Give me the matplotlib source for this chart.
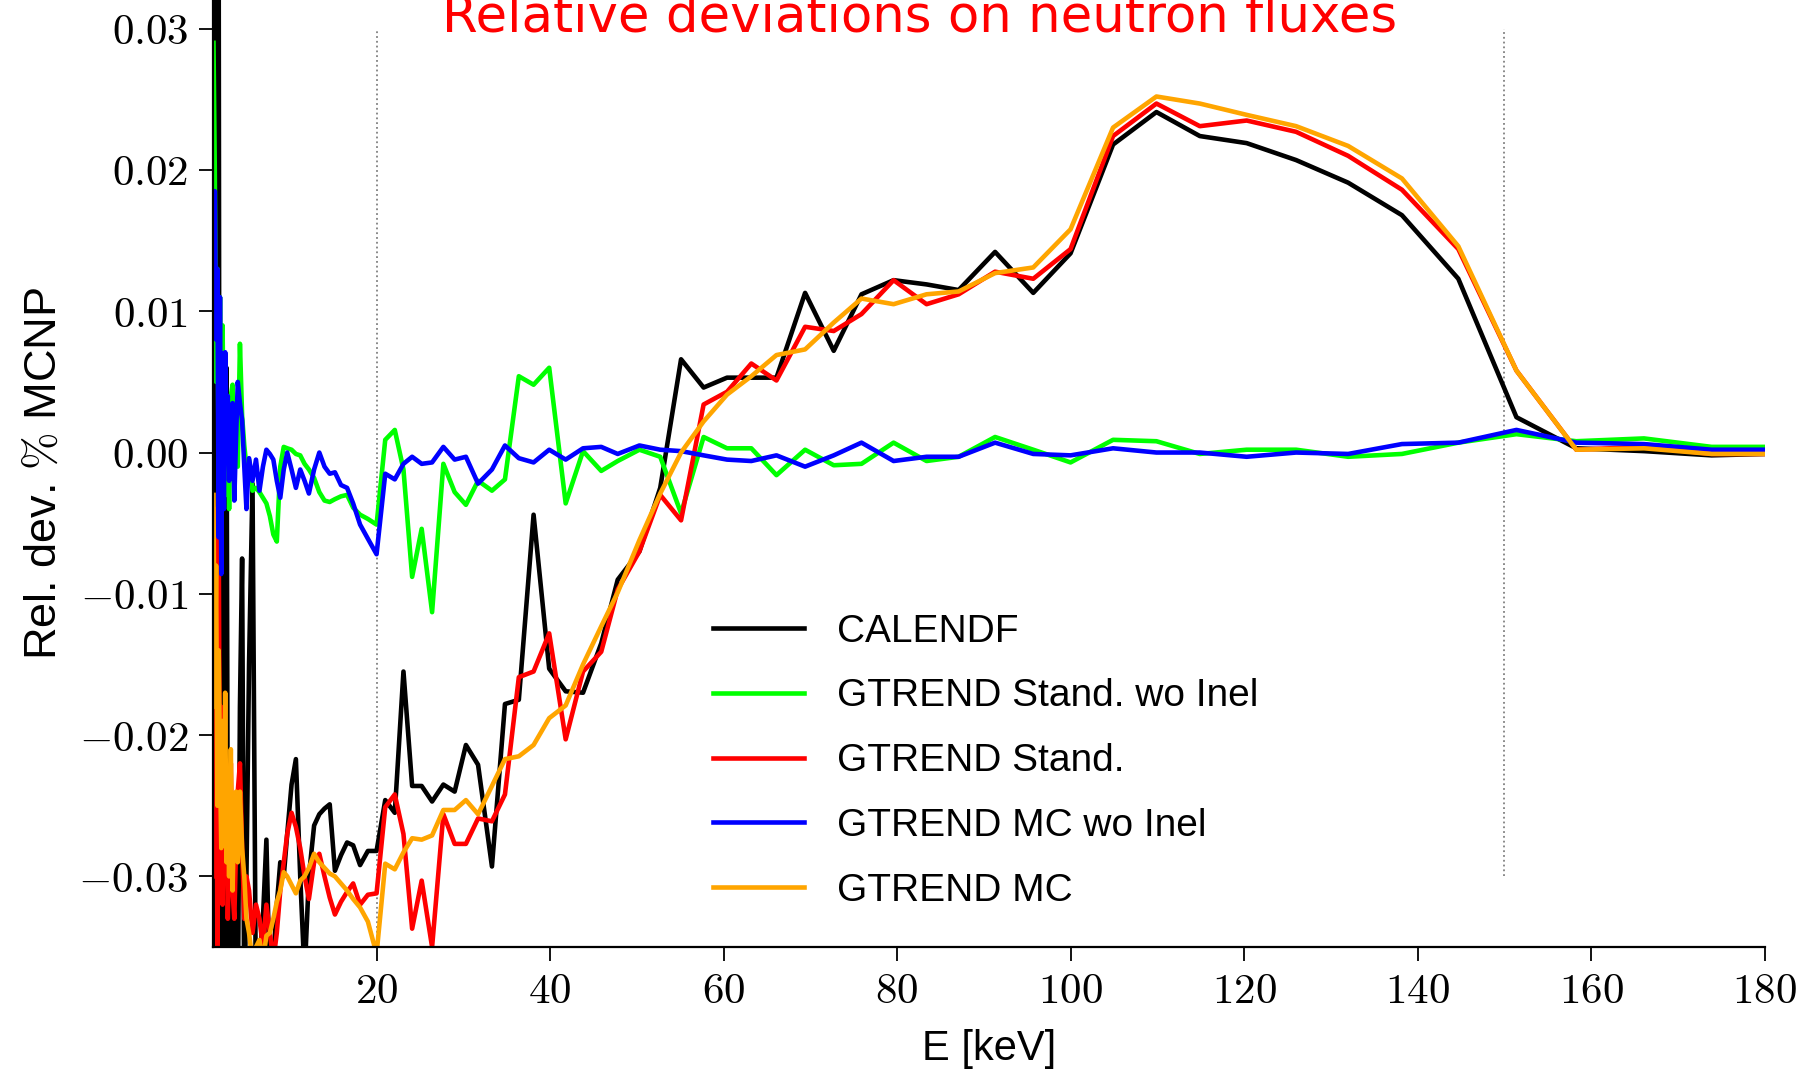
import matplotlib
matplotlib.use("Agg")
import matplotlib.pyplot as plt

plt.rcParams['mathtext.fontset'] = 'cm'
plt.rcParams['font.family'] = ['Liberation Sans', 'DejaVu Sans']

# energy grid [keV]
energy = [1.2, 1.35, 1.5, 1.65, 1.8, 1.95, 2.1, 2.25, 2.4, 2.55,
          2.7, 2.85, 3.0, 3.2, 3.4, 3.6, 3.8, 4.0, 4.25, 4.5,
          4.75, 5.0, 5.3, 5.7, 6.1, 6.5, 6.9, 7.3, 7.7, 8.1,
          8.5, 8.9, 9.3, 9.7, 10.2, 10.7, 11.2, 11.7, 12.2, 12.8,
          13.4, 14.0, 14.6, 15.2, 15.9, 16.6, 17.3, 18.1, 19.0,
          20.0, 21.0, 22.1, 23.1, 24.1, 25.2, 26.4, 27.7, 29.0, 30.3,
          31.7, 33.3, 34.8, 36.4, 38.1, 39.9, 41.8, 43.8, 45.9, 47.8,
          50.3, 52.7, 55.1, 57.7, 60.4, 63.2, 66.1, 69.4, 72.7, 75.9,
          79.6, 83.4, 87.1, 91.3, 95.7, 100.0, 104.9, 109.9, 114.9, 120.3,
          126.0, 132.0, 138.2, 144.7, 151.4, 158.3, 166.1, 173.9, 180.0]

calendf = [0.040, -0.040, 0.040, -0.040, 0.036, -0.040, 0.004, -0.040, -0.028, -0.040,
           0.006, -0.030, -0.037, -0.040, -0.028, -0.040, -0.030, -0.040, -0.018, -0.0075,
           -0.040, -0.030, -0.015, -0.0022, -0.040, -0.036, -0.033, -0.0274, -0.038, -0.036,
           -0.032, -0.029, -0.030, -0.027, -0.0235, -0.0217, -0.030, -0.037, -0.030, -0.0264,
           -0.0256, -0.0252, -0.0249, -0.0296, -0.0285, -0.0276, -0.0278, -0.0292, -0.0282,
           -0.0282, -0.0246, -0.0255, -0.0155, -0.0236, -0.0236, -0.0247, -0.0235, -0.0240, -0.0207,
           -0.0221, -0.0293, -0.0178, -0.0175, -0.0044, -0.0153, -0.0169, -0.0170, -0.0135, -0.0090,
           -0.0070, -0.0025, 0.0066, 0.0046, 0.0053, 0.0053, 0.0053, 0.0113, 0.0072, 0.0112,
           0.0122, 0.0119, 0.0115, 0.0142, 0.0113, 0.0141, 0.0218, 0.0241, 0.0224, 0.0219,
           0.0207, 0.0191, 0.0168, 0.0123, 0.0025, 0.0003, 0.0001, -0.0002, -0.0001]

stand_wo = [0.029, 0.020, 0.005, 0.013, -0.002, 0.011, 0.003, 0.009, -0.001, 0.004,
            -0.003, 0.002, -0.004, 0.004, 0.0048, -0.002, 0.002, -0.001, 0.0077, 0.0026,
            0.0005, -0.001, -0.0005, -0.0027, -0.0025, -0.0028, -0.0032, -0.0036, -0.0045, -0.0058,
            -0.0063, -0.001, 0.0004, 0.0003, 0.0002, -0.0001, -0.0002, -0.0008, -0.0012, -0.0018,
            -0.0028, -0.0034, -0.0035, -0.0033, -0.0031, -0.003, -0.0039, -0.0044, -0.0047,
            -0.0051, 0.0009, 0.0016, -0.0012, -0.0088, -0.0054, -0.0113, -0.0008, -0.0028, -0.0037,
            -0.0020, -0.0027, -0.0019, 0.0054, 0.0048, 0.0060, -0.0036, 0.0001, -0.0013, -0.0006,
            0.0002, -0.0003, -0.0043, 0.0011, 0.0003, 0.0003, -0.0016, 0.0002, -0.0009, -0.0008,
            0.0007, -0.0006, -0.0003, 0.0011, 0.0002, -0.0007, 0.0009, 0.0008, -0.0001, 0.0002,
            0.0002, -0.0003, -0.0001, 0.0007, 0.0013, 0.0008, 0.0010, 0.0004, 0.0004]

stand = [-0.004, -0.030, -0.012, -0.035, -0.005, -0.028, -0.018, -0.032, -0.022, -0.030,
         -0.026, -0.033, -0.029, -0.022, -0.031, -0.033, -0.028, -0.024, -0.022, -0.028,
         -0.033, -0.030, -0.031, -0.034, -0.032, -0.033, -0.035, -0.032, -0.034, -0.036,
         -0.034, -0.031, -0.029, -0.027, -0.0255, -0.0265, -0.028, -0.030, -0.0316, -0.029,
         -0.0284, -0.030, -0.0315, -0.0327, -0.0318, -0.0311, -0.0305, -0.032, -0.0313,
         -0.0312, -0.0251, -0.0242, -0.0270, -0.0337, -0.0303, -0.0350, -0.0256, -0.0277, -0.0277,
         -0.0259, -0.0261, -0.0242, -0.0159, -0.0155, -0.0128, -0.0203, -0.0155, -0.0141, -0.0097,
         -0.0070, -0.0030, -0.0048, 0.0034, 0.0043, 0.0063, 0.0051, 0.0089, 0.0086, 0.0098,
         0.0122, 0.0105, 0.0112, 0.0128, 0.0123, 0.0144, 0.0224, 0.0247, 0.0231, 0.0235,
         0.0227, 0.0210, 0.0186, 0.0144, 0.0058, 0.0002, 0.0004, -0.0001, -0.0001]

mc_wo = [0.010, 0.0185, 0.008, 0.013, -0.006, 0.011, -0.0086, 0.007, -0.004, 0.0071,
         0.002, 0.004, -0.002, 0.003, 0.0035, -0.0034, 0.001, 0.005, 0.0035, 0.0023,
         -0.001, -0.004, -0.0004, -0.002, -0.0005, -0.0027, -0.001, 0.0002, -0.0001, -0.0005,
         -0.002, -0.0032, -0.0012, 0.0, -0.0012, -0.0025, -0.0012, -0.002, -0.0029, -0.0012,
         0.0, -0.001, -0.0015, -0.0014, -0.0023, -0.0025, -0.0036, -0.0051, -0.0061,
         -0.0072, -0.0015, -0.0019, -0.0008, -0.0003, -0.0008, -0.0007, 0.0004, -0.0005, -0.0003,
         -0.0022, -0.0012, 0.0005, -0.0004, -0.0007, 0.0002, -0.0005, 0.0003, 0.0004, -0.0001,
         0.0005, 0.0002, 0.0001, -0.0002, -0.0005, -0.0006, -0.0002, -0.0010, -0.0002, 0.0007,
         -0.0006, -0.0003, -0.0003, 0.0007, -0.0001, -0.0002, 0.0003, 0.0000, 0.0000, -0.0003,
         0.0000, -0.0001, 0.0006, 0.0007, 0.0016, 0.0007, 0.0006, 0.0002, 0.0002]

mc = [-0.003, -0.018, -0.008, -0.025, -0.014, -0.022, -0.028, -0.019, -0.027, -0.017,
      -0.029, -0.023, -0.030, -0.021, -0.031, -0.025, -0.024, -0.029, -0.024, -0.028,
      -0.030, -0.033, -0.034, -0.036, -0.035, -0.0345, -0.036, -0.0342, -0.034, -0.033,
      -0.0318, -0.031, -0.0297, -0.030, -0.0306, -0.0312, -0.0303, -0.030, -0.0294, -0.0284,
      -0.029, -0.0294, -0.0298, -0.030, -0.0305, -0.031, -0.0316, -0.0322, -0.0332,
      -0.0355, -0.0291, -0.0295, -0.0283, -0.0273, -0.0274, -0.0271, -0.0253, -0.0253, -0.0246,
      -0.0256, -0.0236, -0.0217, -0.0215, -0.0207, -0.0188, -0.0179, -0.0150, -0.0123, -0.0099,
      -0.0062, -0.0029, 0.0000, 0.0022, 0.0041, 0.0054, 0.0069, 0.0073, 0.0092, 0.0109,
      0.0105, 0.0112, 0.0114, 0.0127, 0.0131, 0.0158, 0.0230, 0.0252, 0.0247, 0.0239,
      0.0231, 0.0217, 0.0194, 0.0146, 0.0058, 0.0002, 0.0003, -0.0001, -0.0001]

labels = ['CALENDF', 'GTREND Stand. wo Inel', 'GTREND Stand.', 'GTREND MC wo Inel', 'GTREND MC']
colors = ['black', '#00ff00', '#ff0000', '#0000ff', '#ffa500']

xticks = [20, 40, 60, 80, 100, 120, 140, 160, 180]
xticklabels = ['$20$', '$40$', '$60$', '$80$', '$100$', '$120$', '$140$', '$160$', '$180$']
yticks = [-0.03, -0.02, -0.01, 0.0, 0.01, 0.02, 0.03]
yticklabels = ['$-0.03$', '$-0.02$', '$-0.01$', '$0.00$', '$0.01$', '$0.02$', '$0.03$']

fig = plt.figure(figsize=(18, 10.73), dpi=100)
ax = fig.add_axes([0.1186, 0.1174, 0.8617, 0.8826])

# dotted markers of the energy window
ax.vlines([20], -0.035, 0.03, colors='gray', linestyles=':', lw=1.3, zorder=1)
ax.vlines([150], -0.03, 0.03, colors='gray', linestyles=':', lw=1.3, zorder=1)

for ys, c, lab in zip([calendf, stand_wo, stand, mc_wo, mc], colors, labels):
    ax.plot(energy, ys, color=c, lw=3.3, label=lab, zorder=2)

ax.set_xlim(1.2, 180)
ax.set_ylim(-0.035, 0.03203)
ax.set_xticks(xticks)
ax.set_xticklabels(xticklabels, fontsize=31)
ax.set_yticks(yticks)
ax.set_yticklabels(yticklabels, fontsize=31)
ax.tick_params(length=10, width=1.3, pad=8)

for side in ['top', 'right']:
    ax.spines[side].set_visible(False)
for side in ['left', 'bottom']:
    ax.spines[side].set_linewidth(1.6)

ax.set_xlabel('E [keV]', fontsize=30, labelpad=12)
ax.set_ylabel(r'Rel. dev. $\%$ MCNP', fontsize=32.5, labelpad=10)

ax.legend(loc='upper left', bbox_to_anchor=(0.322, 0.352), frameon=False,
          fontsize=28, borderpad=0, borderaxespad=0, handlelength=2.35,
          handletextpad=0.84, labelspacing=0.74)

fig.text(0.511, 1 - 31.7 / 1073, 'Relative deviations on neutron fluxes',
         color='red', fontsize=37, ha='center', va='baseline', family='DejaVu Sans')

fig.savefig('out.png', dpi=100)
